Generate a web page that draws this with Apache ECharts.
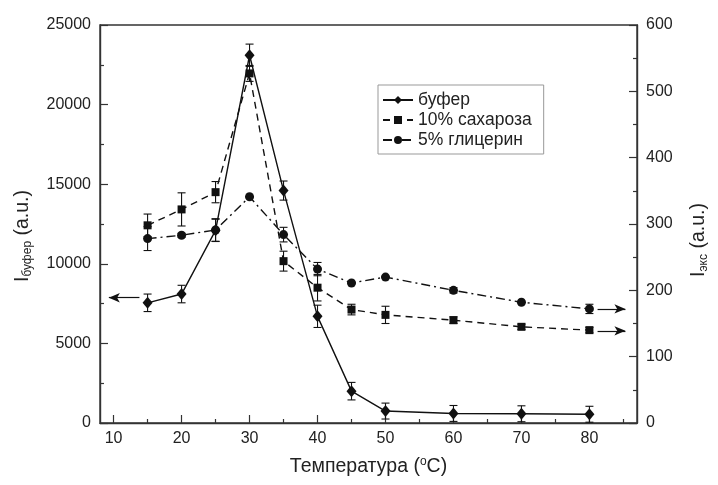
<!DOCTYPE html>
<html>
<head>
<meta charset="utf-8">
<script src="https://cdn.jsdelivr.net/npm/echarts@6/dist/echarts.min.js"></script>
<style>
    html, body { margin: 0; padding: 0; background: #fff; }
    #chart { width: 718px; height: 485px; }
</style>
</head>
<body>
<div id="chart"></div>
<script>
    // temperature points, degrees C
    var temps = [15, 20, 25, 30, 35, 40, 45, 50, 60, 70, 80]
    // buffer, left axis
    var bufer = [7550, 8100, 12100, 23100, 14600, 6700, 2000, 750, 600, 580, 550]
    var buferErr = [550, 550, 700, 700, 600, 700, 550, 500, 500, 500, 500]
    // 10% sucrose, right axis
    var saharoza = [298, 322, 348, 527, 244, 204, 171, 163, 155, 145, 140]
    var saharozaErr = [17, 25, 16, 12, 15, 20, 8, 13, 5, 4, 4]
    // 5% glycerol, right axis
    var glicerin = [278, 283, 291, 341, 284, 232, 211, 220, 200, 182, 172]
    var glicerinErr = [18, 3, 17, 0, 11, 10, 0, 0, 4, 0, 7]

    var xMajor = [10, 20, 30, 40, 50, 60, 70, 80]
    var xMinor = [15, 25, 35, 45, 55, 65, 75, 85]

    // arrows showing which axis each curve belongs to: [xFrom, xTo, y]
    var arrowBufer = [13.8, 9.3, 7870]
    var arrowSaharoza = [81.2, 85.3, 139]
    var arrowGlicerin = [81.2, 85.3, 172]

    var ink = '#111'
    var font = 'Liberation Sans, Arial, sans-serif'

    function pairs(ys) {
        return temps.map(function (t, i) { return [t, ys[i]] })
    }
    function errRows(ys, es) {
        return temps.map(function (t, i) { return [t, ys[i] - es[i], ys[i] + es[i]] })
    }
    function arrowLine(a) {
        return {
            silent: true,
            symbol: ['none', 'arrow'],
            symbolSize: [7, 11],
            label: { show: false },
            lineStyle: { color: ink, width: 1.2, type: 'solid' },
            data: [[{ coord: [a[0], a[2]] }, { coord: [a[1], a[2]] }]]
        }
    }
    function errorSeries(ys, es, axis) {
        return {
            type: 'custom',
            yAxisIndex: axis,
            silent: true,
            z: 1,
            data: errRows(ys, es),
            renderItem: function (params, api) {
                var lo = api.coord([api.value(0), api.value(1)])
                var hi = api.coord([api.value(0), api.value(2)])
                var w = 4
                var st = { stroke: ink, lineWidth: 1.1 }
                return {
                    type: 'group',
                    children: [
                        { type: 'line', shape: { x1: lo[0], y1: lo[1], x2: hi[0], y2: hi[1] }, style: st },
                        { type: 'line', shape: { x1: lo[0] - w, y1: lo[1], x2: lo[0] + w, y2: lo[1] }, style: st },
                        { type: 'line', shape: { x1: hi[0] - w, y1: hi[1], x2: hi[0] + w, y2: hi[1] }, style: st }
                    ]
                }
            }
        }
    }

    var axisText = { color: '#222', fontSize: 16, fontFamily: font }
    var nameRich = {
        i: { fontSize: 19.5, fontFamily: font, color: '#222' },
        sub: { fontSize: 12, fontFamily: font, color: '#222', verticalAlign: 'bottom', padding: [11, 0, 0, 0] }
    }

    var myChart = echarts.init(document.getElementById('chart'))
    myChart.setOption({
        animation: false,
        textStyle: { fontFamily: font },
        grid: {
            left: 100, right: 77, top: 25, bottom: 62,
            show: true, borderColor: '#333', borderWidth: 1.4
        },
        legend: {
            orient: 'vertical',
            left: 378, top: 85,
            padding: [6, 12, 5, 4],
            itemGap: 2,
            itemWidth: 30, itemHeight: 10,
            borderColor: '#999', borderWidth: 1,
            textStyle: { color: '#222', fontSize: 17.5, fontFamily: font },
            data: ['буфер', '10% сахароза', '5% глицерин']
        },
        xAxis: [{
            type: 'value',
            min: 8, max: 87,
            name: 'Температура ({s|o}C)',
            nameLocation: 'middle',
            nameGap: 33,
            nameTextStyle: {
                color: '#222', fontSize: 19.5, fontFamily: font,
                rich: { s: { fontSize: 12, color: '#222', verticalAlign: 'top', padding: [0, 0, 9, 0] } }
            },
            axisLine: { lineStyle: { color: '#333', width: 1.4 } },
            axisTick: { inside: true, length: 8, customValues: xMajor, lineStyle: { color: '#333', width: 1.2 } },
            axisLabel: Object.assign({ margin: 8, customValues: xMajor }, axisText),
            splitLine: { show: false }
        }, {
            type: 'value',
            min: 8, max: 87,
            position: 'bottom',
            axisLine: { show: false },
            axisTick: { inside: true, length: 4, customValues: xMinor, lineStyle: { color: '#333', width: 1.2 } },
            axisLabel: { show: false },
            splitLine: { show: false }
        }],
        yAxis: [{
            type: 'value',
            min: 0, max: 25000, interval: 5000,
            name: '{i|I}{sub|буфер} (a.u.)',
            nameLocation: 'middle',
            nameRotate: 90,
            nameGap: 66,
            nameTextStyle: {
                color: '#222', fontSize: 19.5, fontFamily: font,
                padding: [0, 24, 0, 0],
                rich: nameRich
            },
            axisLine: { show: true, lineStyle: { color: '#333', width: 1.4 } },
            axisTick: { show: true, inside: true, length: 8, lineStyle: { color: '#333', width: 1.2 } },
            minorTick: { show: true, splitNumber: 2, length: 4, lineStyle: { color: '#333', width: 1.2 } },
            axisLabel: Object.assign({ margin: 9, formatter: function (v) { return String(v) } }, axisText),
            splitLine: { show: false }
        }, {
            type: 'value',
            position: 'right',
            min: 0, max: 600, interval: 100,
            name: '{i|I}{sub|экс} (a.u.)',
            nameLocation: 'middle',
            nameRotate: 90,
            nameGap: 50,
            nameTextStyle: {
                color: '#222', fontSize: 19.5, fontFamily: font,
                padding: [0, 32, 0, 0],
                rich: nameRich
            },
            axisLine: { show: true, lineStyle: { color: '#333', width: 1.4 } },
            axisTick: { show: true, inside: true, length: 8, lineStyle: { color: '#333', width: 1.2 } },
            minorTick: { show: true, splitNumber: 2, length: 4, lineStyle: { color: '#333', width: 1.2 } },
            axisLabel: Object.assign({ margin: 9 }, axisText),
            splitLine: { show: false }
        }],
        series: [
            errorSeries(bufer, buferErr, 0),
            errorSeries(saharoza, saharozaErr, 1),
            errorSeries(glicerin, glicerinErr, 1),
            {
                name: 'буфер',
                type: 'line',
                yAxisIndex: 0,
                data: pairs(bufer),
                symbol: 'diamond',
                symbolSize: [10, 12],
                itemStyle: { color: ink },
                lineStyle: { color: ink, width: 1.4, type: 'solid' },
                markLine: arrowLine(arrowBufer),
                z: 3
            },
            {
                name: '10% сахароза',
                type: 'line',
                yAxisIndex: 1,
                data: pairs(saharoza),
                symbol: 'rect',
                symbolSize: 8,
                itemStyle: { color: ink },
                lineStyle: { color: ink, width: 1.4, type: [7, 5] },
                markLine: arrowLine(arrowSaharoza),
                z: 3
            },
            {
                name: '5% глицерин',
                type: 'line',
                yAxisIndex: 1,
                data: pairs(glicerin),
                symbol: 'circle',
                symbolSize: 9,
                itemStyle: { color: ink },
                lineStyle: { color: ink, width: 1.4, type: [9, 4, 2, 4] },
                markLine: arrowLine(arrowGlicerin),
                z: 3
            }
        ]
    })
</script>
</body>
</html>
